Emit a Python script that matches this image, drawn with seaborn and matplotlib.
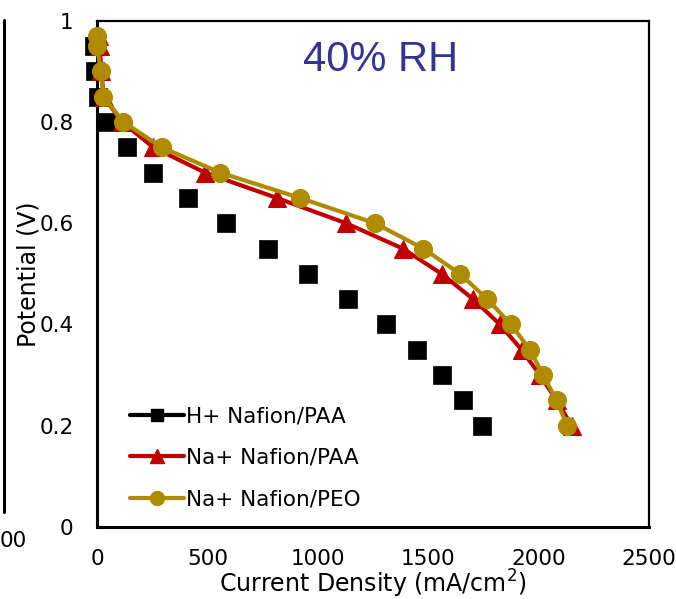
import matplotlib
matplotlib.use("Agg")
import matplotlib.pyplot as plt
from matplotlib.lines import Line2D
import seaborn as sns
import pandas as pd

# ---- data ----
h_paa_current = [-14, -9, 6, 44, 134, 255, 414, 583, 776, 957, 1138, 1307, 1449, 1562, 1658, 1744]
h_paa_voltage = [0.95, 0.90, 0.85, 0.80, 0.75, 0.70, 0.65, 0.60, 0.55, 0.50, 0.45, 0.40, 0.35, 0.30, 0.25, 0.20]

na_paa_current = [10, 12, 20, 30, 113, 255, 489, 814, 1128, 1385, 1561, 1704, 1825, 1923, 2006, 2082, 2150]
na_paa_voltage = [0.97, 0.95, 0.90, 0.85, 0.80, 0.75, 0.70, 0.65, 0.60, 0.55, 0.50, 0.45, 0.40, 0.35, 0.30, 0.25, 0.20]

na_peo_current = [0, 0, 17, 29, 119, 293, 557, 919, 1259, 1478, 1644, 1768, 1875, 1961, 2021, 2082, 2130]
na_peo_voltage = [0.97, 0.95, 0.90, 0.85, 0.80, 0.75, 0.70, 0.65, 0.60, 0.55, 0.50, 0.45, 0.40, 0.35, 0.30, 0.25, 0.20]

series_labels = ["H+ Nafion/PAA", "Na+ Nafion/PAA", "Na+ Nafion/PEO"]
x_ticks = [0, 500, 1000, 1500, 2000, 2500]
y_ticks = [0, 0.2, 0.4, 0.6, 0.8, 1.0]
y_tick_labels = ["0", "0.2", "0.4", "0.6", "0.8", "1"]

black = "#000000"
red = "#C00000"
gold = "#AE8B00"

sns.set_style("white")
plt.rcParams["font.family"] = ["DejaVu Sans"]
plt.rcParams["text.color"] = "black"
plt.rcParams["axes.labelcolor"] = "black"
plt.rcParams["xtick.color"] = "black"
plt.rcParams["ytick.color"] = "black"

fig = plt.figure(figsize=(6.76, 5.99), dpi=100)
ax = fig.add_axes([0.1435, 0.1202, 0.8165, 0.8452])

df_h = pd.DataFrame({"x": h_paa_current, "y": h_paa_voltage})
df_na = pd.DataFrame({"x": na_paa_current, "y": na_paa_voltage})
df_peo = pd.DataFrame({"x": na_peo_current, "y": na_peo_voltage})

sns.scatterplot(data=df_h, x="x", y="y", marker="s", s=180, color=black,
                edgecolor=black, linewidth=0.5, ax=ax, clip_on=False, zorder=3)
sns.lineplot(data=df_na, x="x", y="y", sort=False, estimator=None, color=red,
             linewidth=3, marker="^", markersize=13, markeredgecolor=red,
             ax=ax, clip_on=False, zorder=4)
sns.lineplot(data=df_peo, x="x", y="y", sort=False, estimator=None, color=gold,
             linewidth=3, marker="o", markersize=13, markeredgecolor=gold,
             ax=ax, clip_on=False, zorder=5)

ax.set_xlim(0, 2500)
ax.set_ylim(0, 1)
ax.set_xticks(x_ticks)
ax.set_xticklabels([str(v) for v in x_ticks])
ax.set_yticks(y_ticks)
ax.set_yticklabels(y_tick_labels)
ax.tick_params(axis="both", length=0, labelsize=15.5, colors="black")
ax.tick_params(axis="x", pad=16)
ax.tick_params(axis="y", pad=17)

for side in ["left", "bottom"]:
    ax.spines[side].set_linewidth(2.2)
    ax.spines[side].set_color("black")
for side in ["top", "right"]:
    ax.spines[side].set_linewidth(1.6)
    ax.spines[side].set_color("black")

ax.set_xlabel("Current Density (mA/cm$^2$)", fontsize=17, labelpad=-1)
ax.set_ylabel("Potential (V)", fontsize=17, labelpad=-1)

ax.text(0.513, 0.922, "40% RH", transform=ax.transAxes, ha="center", va="center",
        fontsize=30, color="#333399", family="Liberation Sans")

handles = [
    Line2D([], [], color=black, marker="s", markersize=9, linewidth=3),
    Line2D([], [], color=red, marker="^", markersize=10, linewidth=3),
    Line2D([], [], color=gold, marker="o", markersize=10, linewidth=3),
]
ax.legend(handles, series_labels, loc="lower left", bbox_to_anchor=(0.06, 0.035),
          frameon=False, fontsize=15.5, handlelength=2.5, handletextpad=0.1,
          labelspacing=1.0, borderpad=0, borderaxespad=0)

# remnants of neighbouring panel at the left edge
fig.add_artist(Line2D([0.006, 0.006], [1 - 20 / 599, 1 - 512 / 599], color="black",
                      linewidth=2.2, transform=fig.transFigure))
fig.text(0.0, 1 - 541 / 599, "00", fontsize=15.5, ha="left", va="center")

fig.savefig("out.png", dpi=100)
